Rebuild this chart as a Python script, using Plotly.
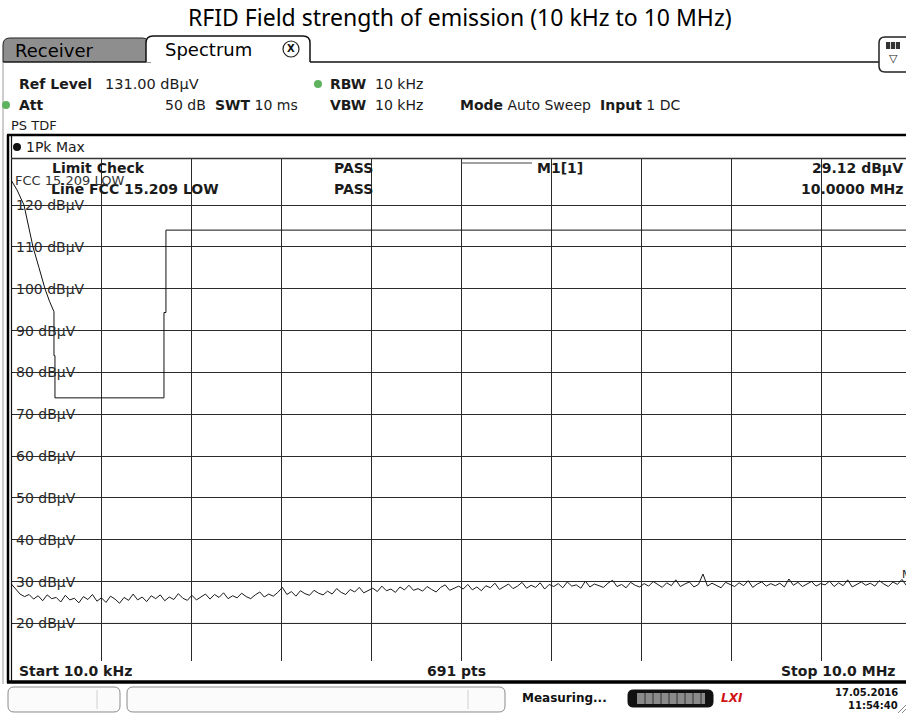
import numpy as np
import plotly.graph_objects as go

# ---------------- data ----------------
start_mhz = 0.01
stop_mhz = 10.0
ref_level_db = 131.0
bottom_db = 11.0
n_divisions = 10

# peak trace, dBµV, sampled evenly from start to stop
trace_db = [
    29.5, 28.2, 27.0, 26.4, 26.9, 25.8, 26.6, 25.4, 26.8, 25.9,
    26.2, 25.1, 26.7, 25.6, 26.0, 24.9, 26.4, 25.7, 26.9, 25.3,
    26.1, 25.0, 26.5, 25.8, 24.8, 26.2, 25.5, 27.0, 25.6, 26.3,
    25.2, 26.6, 25.9, 26.8, 25.4, 26.3, 25.7, 27.1, 26.0, 25.5,
    26.7, 25.6, 26.4, 27.0, 25.8, 26.9, 26.2, 27.3, 25.9, 26.6,
    26.1, 27.2, 26.4, 25.9, 26.8, 27.5, 26.3, 27.0, 26.5, 27.4,
    28.6, 26.9, 27.6, 26.5, 27.8, 27.1, 26.7, 27.9, 27.2, 26.8,
    27.7, 27.0, 28.3, 27.4, 26.9, 28.1, 27.5, 28.6, 27.3, 27.9,
    28.4, 27.6, 28.9, 27.8, 28.2, 27.4, 28.7, 28.0, 29.1, 27.9,
    28.3, 27.7, 28.8, 28.1, 27.5, 28.6, 29.2, 27.9, 28.4, 28.9,
    28.2, 29.3, 28.0, 28.7, 27.8, 29.0, 28.5, 29.6, 28.1, 28.8,
    29.4, 28.3, 28.9, 29.8, 28.4, 29.1, 28.6, 29.7, 28.2, 29.3,
    28.8, 29.5, 28.5, 29.9, 28.9, 29.2, 28.4, 30.1, 28.7, 29.4,
    29.0, 28.6, 29.6, 30.3, 28.8, 29.3, 28.5, 29.8, 29.1, 28.7,
    29.5, 28.9, 30.0, 29.2, 28.6, 29.7, 29.0, 30.4, 28.8, 29.4,
    29.9, 28.7, 29.3, 31.8, 28.9, 29.6, 29.1, 28.5, 29.8, 29.2,
    28.8, 29.7, 29.0, 30.2, 28.6, 29.4, 29.9, 28.9, 29.5, 29.0,
    29.6, 28.7, 30.6, 29.1, 29.8, 28.8, 29.4, 30.0, 28.9, 29.5,
    29.2, 30.1, 28.8, 29.7, 29.0, 30.4, 28.7, 29.3, 29.9, 29.1,
    29.6, 28.9, 30.2, 29.4, 28.8, 29.9, 29.3, 30.5, 29.0, 29.12,
]

# FCC 15.209 LOW limit line
limit_freq_mhz = [0.010, 0.077, 0.154, 0.204, 0.254, 0.321, 0.387, 0.437, 0.482, 0.487,
                  0.487, 0.498, 0.498, 1.708, 1.708, 1.730, 1.730, 10.0]
limit_db = [126.0, 123.6, 120.0, 115.0, 110.0, 105.0, 100.0, 97.0, 94.5, 94.5,
            84.0, 84.0, 73.9, 73.9, 94.3, 94.3, 114.0, 114.0]

ytick_vals = [120, 110, 100, 90, 80, 70, 60, 50, 40, 30, 20]
ytick_labels = ["120 dBµV", "110 dBµV", "100 dBµV", "90 dBµV", "80 dBµV", "70 dBµV",
                "60 dBµV", "50 dBµV", "40 dBµV", "30 dBµV", "20 dBµV"]

marker_freq_mhz = 10.0
marker_db = 29.12

# ---------------- layout geometry (pixels) ----------------
W, H = 906, 716
L, R, T, B = 11, 906, 159, 661
DIV_PX = 90.0

span = stop_mhz - start_mhz
x_end = start_mhz + span * (R - L) / (DIV_PX * n_divisions)
xgrid = [start_mhz + k * span / n_divisions for k in range(1, n_divisions)]
trace_freq = np.linspace(start_mhz, stop_mhz, len(trace_db))


def px(xp):
    return (xp - L) / (R - L)


def py(yp):
    return (B - yp) / (B - T)


shapes = []
annos = []
FONT = "DejaVu Sans"
INK = "#1b1b1b"


def line(x0, y0, x1, y1, color="#000", width=1, layer="above"):
    shapes.append(dict(type="line", xref="paper", yref="paper",
                       x0=px(x0), y0=py(y0), x1=px(x1), y1=py(y1),
                       line=dict(color=color, width=width), layer=layer))


def rect(x0, y0, x1, y1, fill, color=None, width=0, layer="above"):
    shapes.append(dict(type="rect", xref="paper", yref="paper",
                       x0=px(x0), y0=py(y0), x1=px(x1), y1=py(y1),
                       fillcolor=fill,
                       line=dict(color=color or fill, width=width), layer=layer))


def circle(cx, cy, r, fill, color=None, width=0):
    shapes.append(dict(type="circle", xref="paper", yref="paper",
                       x0=px(cx - r), y0=py(cy + r), x1=px(cx + r), y1=py(cy - r),
                       fillcolor=fill, line=dict(color=color or fill, width=width),
                       layer="above"))


def path(cmds, fill=None, color="#000", width=1, layer="above"):
    parts = []
    for c in cmds:
        op, vals = c[0], c[1:]
        coords = []
        for i in range(0, len(vals), 2):
            coords.append(f"{px(vals[i]):.5f},{py(vals[i + 1]):.5f}")
        parts.append(op + " " + " ".join(coords))
    d = " ".join(parts)
    shp = dict(type="path", xref="paper", yref="paper", path=d,
               line=dict(color=color, width=width), layer=layer)
    shp["fillcolor"] = fill if fill else "rgba(0,0,0,0)"
    shapes.append(shp)


def rrect(x0, y0, x1, y1, r, fill, color, width=1):
    path([("M", x0 + r, y0), ("L", x1 - r, y0), ("Q", x1, y0, x1, y0 + r),
          ("L", x1, y1 - r), ("Q", x1, y1, x1 - r, y1), ("L", x0 + r, y1),
          ("Q", x0, y1, x0, y1 - r), ("L", x0, y0 + r), ("Q", x0, y0, x0 + r, y0), ("Z",)],
         fill=fill, color=color, width=width)


def text(x, y, s, size=14, color=INK, anchor="left", family=FONT, yref="paper"):
    annos.append(dict(xref="paper", yref=yref, x=px(x),
                      y=py(y) if yref == "paper" else y,
                      text=s, showarrow=False, xanchor=anchor, yanchor="middle",
                      font=dict(family=family, size=size, color=color)))


# ---------------- header / tabs ----------------
text(460, 17, "RFID Field strength of emission (10 kHz to 10 MHz)", size=23,
     color="#000", anchor="center", family="Noto Sans")

# Receiver tab (grey)
path([("M", 3, 62), ("L", 3, 45), ("Q", 3, 38, 10, 38), ("L", 142, 38),
      ("Q", 149, 38, 150, 45), ("L", 151, 62), ("Z",)], fill="#8e8e8e", color="#222", width=1)
text(13, 51, "Receiver", size=18, color="#000")
# Spectrum tab (white)
path([("M", 146, 62), ("L", 146, 43), ("Q", 146, 36, 153, 36), ("L", 303, 36),
      ("Q", 310, 36, 310, 43), ("L", 310, 62)], fill="#ffffff", color="#111", width=1.5)
text(163, 50, "Spectrum", size=18, color="#000")
circle(291, 49, 8, "#ffffff", "#222", 1.2)
text(291, 49, "<b>X</b>", size=10, color="#111", anchor="center")
line(310, 62, 879, 62, "#111", 1.5)
line(3, 62, 146, 62, "#111", 1.2)
# right icon
path([("M", 906, 37), ("L", 885, 37), ("Q", 879, 37, 879, 43), ("L", 879, 66),
      ("Q", 879, 72, 885, 72), ("L", 906, 72)], fill="#ffffff", color="#222", width=1.5)
rect(886, 42, 900, 49, "#333")
line(890.5, 42, 890.5, 49, "#ddd", 1)
line(895.5, 42, 895.5, 49, "#ddd", 1)
text(893, 59, "▽", size=11, color="#222", anchor="center")

# outer grey window border
line(3, 62, 3, 684, "#9a9a9a", 1)

# ---------------- settings block ----------------
GREEN = "#5fb35f"
text(17, 84, "<b>Ref Level</b>", size=14)
text(103, 84, "131.00 dBµV", size=14.5)
circle(318, 84, 4, GREEN)
text(328, 84, "<b>RBW</b>  10 kHz", size=14)
circle(6, 105, 4, GREEN)
text(17, 105, "<b>Att</b>", size=14)
text(163, 105, "50 dB", size=14)
text(213, 105, "<b>SWT</b> 10 ms", size=14)
text(328, 105, "<b>VBW</b>  10 kHz", size=14)
text(458, 105, "<b>Mode</b> Auto Sweep", size=14)
text(598, 105, "<b>Input</b> 1 DC", size=14)
text(9, 125, "PS TDF", size=13)

# ---------------- diagram frame ----------------
line(7, 135, 906, 135, "#000", 2.5)
line(8, 135, 8, 683, "#000", 2.5)
line(11.5, 136, 11.5, 681, "#111", 1.2)
line(11, 158.5, 906, 158.5, "#333", 1.5)
circle(17, 147, 4, "#111")
text(24, 147, "1Pk Max", size=14)

# mask for the marker info block (below grid lines, above background)
rect(532, 159.5, 907, 199, "#ffffff", layer="between")
line(461, 163, 532, 163, "#444", 1)

# masks behind y labels so grid lines start after the text
label_w = {3: 74, 2: 65}
for v, lab in zip(ytick_vals, ytick_labels):
    digits = len(lab.split(" ")[0])
    shapes.append(dict(type="rect", xref="paper", yref="y",
                       x0=px(12), x1=px(14 + label_w[digits]),
                       y0=v - 1.6, y1=v + 1.6, fillcolor="#ffffff",
                       line=dict(width=0), layer="between"))
    text(14, v, lab, size=14, color="#2a2a2a", yref="y")

# lighter 20 dB line
shapes.append(dict(type="line", xref="paper", yref="y", x0=px(14 + label_w[2]), x1=1,
                   y0=20, y1=20, line=dict(color="#a0a0a0", width=1), layer="between"))

# limit check / marker text
text(50, 168, "<b>Limit Check</b>", size=14)
text(332, 168, "<b>PASS</b>", size=14)
text(49, 189, "<b>Line FCC 15.209 LOW</b>", size=14)
text(332, 189, "<b>PASS</b>", size=14)
text(13, 181, "FCC 15.209 LOW", size=13, color="#333")
text(535, 168, "<b>M1[1]</b>", size=14)
text(905, 168, "<b>29.12 dBµV</b>", size=14, anchor="right")
text(905, 189, "<b>10.0000 MHz</b>", size=14, anchor="right")

# bottom info bar
text(17, 671, "<b>Start 10.0 kHz</b>", size=14)
text(456, 671, "<b>691 pts</b>", size=14, anchor="center")
text(898, 671, "<b>Stop 10.0 MHz</b>", size=14, anchor="right")
line(7, 682, 906, 682, "#000", 3.5)

# ---------------- status bar ----------------
rrect(8, 687, 120, 712, 6, "#fbfbfb", "#8a8a8a", 1)
line(97, 690, 97, 709, "#d0d0d0", 1)
rrect(127, 687, 505, 712, 6, "#fbfbfb", "#8a8a8a", 1)
line(468, 690, 468, 709, "#d0d0d0", 1)
text(520, 698, "<b>Measuring...</b>", size=12, color="#111")
rrect(628, 690, 713, 707, 5, "#111", "#111", 1)
rect(637, 693, 705, 704, "#8a8a8a")
for xs in range(645, 705, 8):
    line(xs, 693, xs, 704, "#333", 1)
text(732, 698, "<b><i>LXI</i></b>", size=12, color="#d01515", anchor="center")
text(900, 692, "<b>17.05.2016</b>", size=10, color="#111", anchor="right")
text(900, 705, "<b>11:54:40</b>", size=10, color="#111", anchor="right")
line(898, 713, 906, 705, "#888", 1)
line(902, 713, 906, 709, "#888", 1)

# ---------------- traces ----------------
fig = go.Figure()
fig.add_trace(go.Scatter(x=limit_freq_mhz, y=limit_db, mode="lines",
                         line=dict(color="#111", width=1), hoverinfo="skip"))
fig.add_trace(go.Scatter(x=trace_freq, y=trace_db, mode="lines",
                         line=dict(color="#1a1a1a", width=1), hoverinfo="skip"))

# marker label (marker itself sits at the right edge of the sweep)
annos.append(dict(xref="paper", yref="y", x=px(900), y=marker_db, text="M1",
                  showarrow=False, xanchor="left", yanchor="bottom", yshift=2,
                  font=dict(family=FONT, size=11, color="#222")))

fig.update_layout(
    width=W, height=H,
    margin=dict(l=L, r=W - R, t=T, b=H - B),
    paper_bgcolor="#ffffff", plot_bgcolor="#ffffff",
    showlegend=False,
    xaxis=dict(range=[start_mhz, x_end], tickvals=xgrid, showticklabels=False, ticks="",
               showgrid=True, gridcolor="#2b2b2b", gridwidth=1, zeroline=False,
               showline=False, fixedrange=True),
    yaxis=dict(range=[bottom_db, ref_level_db], tickvals=ytick_vals, showticklabels=False,
               ticks="", showgrid=True, gridcolor="#2b2b2b", gridwidth=1, zeroline=False,
               showline=False, fixedrange=True),
    shapes=shapes,
    annotations=annos,
)

fig.write_html("out.html", config={"displayModeBar": False},
               post_script="document.body.style.margin='0';document.body.style.overflow='hidden';")
